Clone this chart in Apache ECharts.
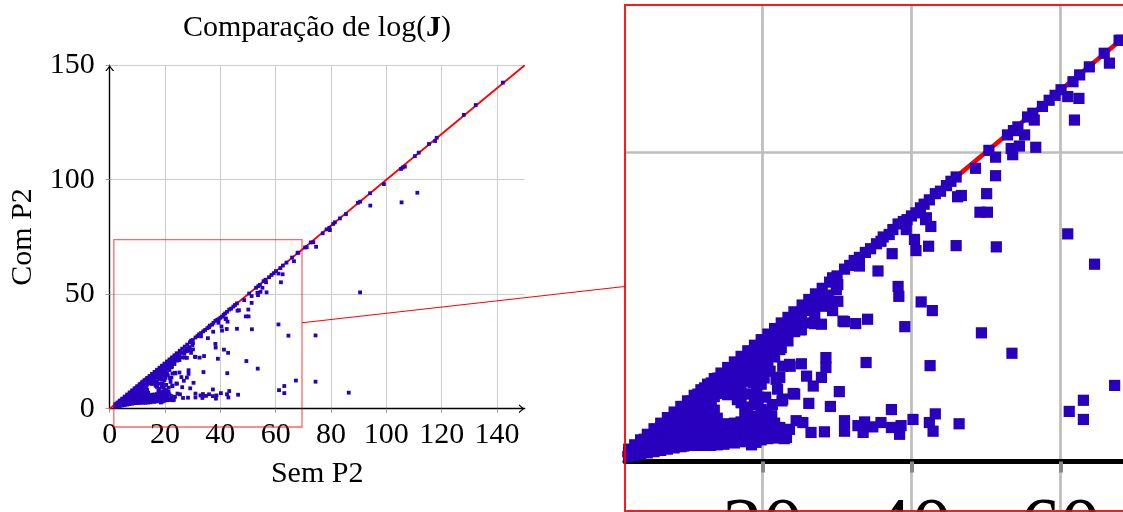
<!DOCTYPE html>
<html><head><meta charset="utf-8">
<script src="https://cdn.jsdelivr.net/npm/echarts@6/dist/echarts.min.js"></script>
<style>html,body{margin:0;padding:0;background:#fff}#c{width:1123px;height:512px}</style>
</head><body><div id="c"></div>
<script>
// ---- axis ticks / ranges ----
const xTicks = [0, 20, 40, 60, 80, 100, 120, 140];
const yTicks = [0, 50, 100, 150];
const zoomXTicks = [20, 40, 60];
const zoomYTicks = [50];
const axisRange = [0, 150];
const zoomX = [1.5, 69.5];
const zoomY = [-8, 73.8];
const identityLine = [[0, 0], [150, 150]];
const titleText = 'Comparação de log(';
const titleBold = 'J';
const xName = 'Sem P2';
const yName = 'Com P2';

// ---- data: [Sem P2, Com P2] ----
const nuvemDensa = [
[2,0.8],[2,1.5],[2,2],[2.8,1],[2.8,1.8],[2.8,2.7],[3.6,1.2],[3.6,2.2],[3.6,3],[3.6,3.5],
[4.5,1.4],[4.5,2.5],[4.5,3.4],[4.5,4.4],[5.4,1.6],[5.4,2.8],[5.4,3.9],[5.4,5.3],
[6.3,1.8],[6.3,3.1],[6.3,4.4],[6.3,5.5],[6.3,6.2],[7.2,2],[7.2,3.3],[7.2,4.7],[7.2,6],[7.2,7.1],
[8.1,2.2],[8.1,3.6],[8.1,5],[8.1,6.4],[8.1,8],[9,2.4],[9,3.8],[9,5.3],[9,6.8],[9,7.9],[9,8.9],
[9.9,2.6],[9.9,4],[9.9,5.6],[9.9,7.1],[9.9,8.5],[9.9,9.8],[10.8,2.7],[10.8,4.2],[10.8,5.8],[10.8,7.4],[10.8,8.9],[10.8,10.7],
[11.7,2.8],[11.7,4.3],[11.7,6],[11.7,7.7],[11.7,9.4],[11.7,10.5],[11.7,11.6],
[12.6,2.9],[12.6,4.4],[12.6,6.2],[12.6,8],[12.6,11.3],[12.6,12.5],
[13.5,3],[13.5,4.6],[13.5,6.4],[13.5,8.3],[13.5,10.5],[13.5,12],[13.5,13.4],
[14.4,2.9],[14.4,4.5],[14.4,5.9],[14.4,11],[14.4,12.6],[14.4,14.3],
[15.3,3.1],[15.3,4.6],[15.3,6.1],[15.3,10.8],[15.3,11.9],[15.3,13.4],[15.3,15.2],
[16.2,3],[16.2,4.8],[16.2,6.2],[16.2,11.4],[16.2,12.8],[16.2,14.5],[16.2,16.1],
[17.1,3.2],[17.1,4.9],[17.1,6.4],[17.1,9.5],[17.1,12],[17.1,13.6],[17.1,15.2],[17.1,17],
[18,3.3],[18,5],[18,6.8],[18,8.8],[18,10.9],[18,13],[18,14.6],[18,16.3],[18,17.9],
[18.9,3.3],[18.9,5.1],[18.9,7.3],[18.9,9.7],[18.9,14],[18.9,15.6],[18.9,17.3],[18.9,18.8],
[19.8,3.5],[19.8,5.3],[19.8,8.4],[19.8,12.5],[19.8,14.8],[19.8,16.6],[19.8,18.2],[19.8,19.7],
[20.7,3.7],[20.7,5.4],[20.7,15.5],[20.7,17.4],[20.7,19],[20.7,20.6],
[21.6,3.8],[21.6,6.2],[21.6,16.9],[21.6,18.4],[21.6,19.9],[21.6,21.5],
[22.5,4],[22.5,18.4],[22.5,20],[22.5,21.2],[22.5,22.4],
[23.4,19.5],[23.4,21],[23.4,22.3],[23.4,23.3],
[24.3,21],[24.3,22.5],[24.2,24.2],[25.2,21.3],[25.2,22.8],[25.2,24],[25.3,25.3],
[26.1,22.4],[26.1,24.4],[26.2,26.2],[27,22.3],[27,24],[27,25.5],[27.1,27.1],
[27.9,22.2],[27.9,25.1],[27.9,26.3],[28,28],[28.5,25.6],[28.8,26.9],[29,29],
[29.4,24.4],[29.9,27.8],[30,30],[30.1,28.6],[30.8,22.7],[31,31.1],[29.4,29.7]
];
const preenchimento = [
[10.3,6.5],[11.2,6.9],[12.2,7.1],[13,7.3],[13.9,7],[11.2,3.5],[12.1,3.6],[13,3.7],[14,3.8],[14.9,3.9],
[15.8,4],[16.7,4.1],[17.6,4.1],[18.5,4.2],[19.4,4.3],[14.9,5.3],[15.8,5.5],[16.7,5.6],[17.6,5.8],[18.5,6],
[19.4,6.5],[20.3,6.6],[13.1,9.4],[14,12],[14.9,12.3],[15.8,13.7],[16.7,14.3],[17.5,14.4],[18.4,15.3],
[19.3,16],[20.2,16.5],[21.1,17.8],[22,19.2],[22.9,19.8],[16.6,10],[19.2,11],[20.2,13.5],[21,14.6],
[20.4,10.4],[21.3,9.2],[19.6,7.3],[20.5,8],
[8.6,4.5],[9.5,4.8],[10.4,5],[11.3,5.2],[12.2,5.3],[13.1,5.5],[14,5.2],[7.7,4],[6.8,3.7],[5.9,3.4],
[5,3],[4.1,2.8],[3.2,2.4],[2.4,1.4],[9.5,6],[10.4,6.3],[8.6,5.9],[7.7,5.4],[6.8,5],[5.9,4.7],[5,4.1],[4.1,3.6],
[9.5,7.5],[10.4,8],[11.3,8.4],[12.2,10.5],[13.1,11.2],[14,13.5],[14.9,14],[15.8,15],[16.7,15.9],
[17.6,16.9],[18.5,17.8],[19.4,18.7],[20.3,19.6],[21.2,20.5],[22.1,21.4],[23,22.3],[23.9,23.1],
[8.6,7.3],[9.5,8.9],[10.4,9.8],[11.3,10.9],[12.2,11.9],[13.1,12.7],
[7.6,2.4],[8.5,2.5],[9.4,2.5],[10.3,2.6],[11.2,2.6],[12.1,2.6],[13,2.6],[13.9,2.7],[14.8,2.8],[18.5,2.7]
];
const diagonal = [
[31.7,31.7],[32.3,32.5],[33,33],[33.8,33.8],[34.5,34.4],[35.3,35.2],[35.9,35.6],[36.2,36.3],[37,36.7],[37.5,37.5],
[38.2,38.4],[38.9,38.8],[39.4,39.1],[40,39.7],[40.6,40.2],[41.2,41],[41.7,41.6],[42.4,42.3],[43.2,43.3],[43.9,43.7],
[44.7,44.6],[45.3,45.3],[46,46],[50.4,50.3],[52.9,52.8],[53.7,53.5],[54.3,54.1],[55.6,55.7],[56.3,56.3],[57.6,57.4],
[58.5,58.4],[59.3,59.2],[60.1,60.1],[61.7,61.4],[62.6,62.5],[63.9,63.8],[65.9,66],[67.9,68.1],[68.2,68.1],
[70.6,70.4],[71.2,70.5],[72.7,72.6],[73.6,72.7],[77,76.6],[78.4,78.3],[79.4,79],[79.6,78],[80.8,80.7],[81.4,81.4],
[83.2,83.1],[85.4,85],[89.7,89.9],[90.5,90.4],[94.1,94.1],[99.1,98.1],[105.3,104.7],[105.9,105.3],[106.7,105.7],
[110.3,110.3],[111.7,111.8],[115.4,115.6],[117.6,116.9],[118.2,118.3],[128,128.3],[132.3,132.6],[142.1,142.4]
];
const dispersos = [
[18.7,12.7],[16.9,10.9],[19.4,9.2],[17.6,7.9],[19.1,3.1],[21.2,7.1],[20.3,5.2],[21.2,4.4],[23.2,3.9],
[21.8,13.3],[22.7,15.4],[22,11.7],[22.7,10.1],[22.3,18.1],[23.6,15.7],[22.3,13.6],[24.1,11],
[25.2,15.8],[23.7,15.4],[24.3,10.9],[22.6,9.8],[26.2,9.4],[29.1,8.9],[30.3,11.3],[26.8,12.2],[27.9,13.6],
[25.9,13.8],[28.5,16.8],[28.5,15.2],[33.9,16],[25,21.3],
[32.5,22.3],[31,22.6],[34.1,23],[39.1,21.8],[38.2,28.3],[38.3,26.7],[41.3,25.8],[42.8,24.4],[29,25.9],[30.1,25.9],
[49.4,20.8],[53.5,17.5],[42.5,15.5],
[20,5.8],[20.9,4.4],[21.2,7.4],[22.3,5.5],[22.9,3.7],[23.6,5.2],[24.5,6.6],[25.4,6.3],[26.5,4.7],[28.3,4.8],
[31,6.6],[31,4.9],[32.8,5.8],[33.5,4.7],[33.7,6.4],[34.8,5.6],[35.9,6.3],[37.3,5.5],[38.4,4.4],[38.6,5.8],
[40.2,6.8],[42.4,6.3],[42.9,4.9],[43.2,7.7],[46.4,6.1],[37.3,8.4],[19.1,5.2],[17.8,4.7],[16,5.2],
[13.6,3.1],[10.9,3.3],[8.4,3.1],[5.3,2.3],[3,1.7],
[61.2,8.1],[63.1,9.9],[63.1,6.8],[67.3,12.3],
[33,31.6],[35.5,30.8],[37.4,33.6],[40.4,35.9],[40.6,34.1],[42.3,34.8],[46,34.9],[51.4,34.7],[61,36.8],[64.6,31.9],
[39.3,37.5],[42,39.4],[42.6,38],[41.9,39.1],[46.2,42.8],[46.7,43],[50.1,43.3],[49.2,40.3],[50.2,40.3],[51.3,46.2],
[48.6,47.4],[51.3,49.2],[53.6,49.6],[53.4,50.6],[54.5,51],[56.7,50.8],[55.2,52.8],[56.5,55.2],[61.9,55.2],
[61,59],[62.5,58.7],[66.6,64.4],
[74.6,70.7],[94.2,88.7],[105.5,90.1],[111.2,94.3],[90.5,50.8],[74.4,32],[74.4,11.8],[86.4,7]
];
const pontos = nuvemDensa.concat(preenchimento, diagonal, dispersos);

const FONT = 'Liberation Serif';
const MARK = '#2800bd';
const ARROW = 'path://M0,6 L5,0 L10,6 L8.4,6 L5,2 L1.6,6 Z';

const chart = echarts.init(document.getElementById('c'), null, {renderer: 'canvas'});
const option = {
  backgroundColor: '#fff',
  animation: false,
  grid: [
    {left: 109.7, top: 65.2, width: 415, height: 343.5, outerBoundsMode: 'none', containLabel: false},
    {left: 625, top: 5, width: 506, height: 506, outerBoundsMode: 'none', containLabel: false}
  ],
  xAxis: [
    {gridIndex: 0, type: 'value', min: axisRange[0], max: axisRange[1],
     name: xName, nameLocation: 'middle', nameGap: 50,
     nameTextStyle: {fontFamily: FONT, fontSize: 30, color: '#000'},
     axisLine: {lineStyle: {color: '#000', width: 1.4}, symbol: ['none', ARROW], symbolSize: [9, 6], symbolOffset: [0, -3]},
     axisTick: {show: true, length: 4, lineStyle: {color: '#999', width: 1}, customValues: xTicks},
     axisLabel: {customValues: xTicks, fontFamily: FONT, fontSize: 30, color: '#000', margin: 11},
     splitLine: {show: true, lineStyle: {color: '#cccccc', width: 1}}},
    {gridIndex: 1, type: 'value', min: zoomX[0], max: zoomX[1],
     axisLine: {onZero: true, lineStyle: {color: '#000', width: 5}},
     axisTick: {show: true, length: 11, lineStyle: {color: '#888', width: 4}, customValues: zoomXTicks},
     axisLabel: {customValues: zoomXTicks, fontFamily: FONT, fontSize: 81, color: '#000', margin: -20},
     splitLine: {show: true, lineStyle: {color: '#bdbdbd', width: 2.7}}}
  ],
  yAxis: [
    {gridIndex: 0, type: 'value', min: axisRange[0], max: axisRange[1], interval: 50,
     name: yName, nameLocation: 'middle', nameGap: 72,
     nameTextStyle: {fontFamily: FONT, fontSize: 30, color: '#000'},
     axisLine: {show: true, lineStyle: {color: '#000', width: 1.4}, symbol: ['none', ARROW], symbolSize: [9, 6], symbolOffset: [0, -3]},
     axisTick: {show: true, length: 4, lineStyle: {color: '#999', width: 1}, customValues: yTicks},
     axisLabel: {customValues: yTicks, fontFamily: FONT, fontSize: 30, color: '#000', margin: 15},
     splitLine: {show: true, lineStyle: {color: '#cccccc', width: 1}}},
    {gridIndex: 1, type: 'value', min: zoomY[0], max: zoomY[1],
     axisLine: {show: false}, axisLabel: {show: false},
     axisTick: {show: false, customValues: zoomYTicks},
     splitLine: {show: true, lineStyle: {color: '#bdbdbd', width: 2.7}}}
  ],
  series: [
    {type: 'line', xAxisIndex: 0, yAxisIndex: 0, data: identityLine, symbol: 'none',
     lineStyle: {color: '#ff0000', width: 1.8}, z: 2},
    {type: 'scatter', xAxisIndex: 0, yAxisIndex: 0, data: pontos, symbol: 'rect', symbolSize: 3.8,
     itemStyle: {color: MARK, opacity: 1}, z: 3},
    {type: 'line', xAxisIndex: 1, yAxisIndex: 1, data: identityLine, symbol: 'none',
     lineStyle: {color: '#ff0000', width: 4.8}, z: 2},
    {type: 'scatter', xAxisIndex: 1, yAxisIndex: 1, data: pontos, symbol: 'rect', symbolSize: 11.2,
     itemStyle: {color: MARK, opacity: 1}, z: 3}
  ]
};
chart.setOption(option);

// spy rectangle, magnified panel border and connecting line, placed through the scales
const a = chart.convertToPixel({gridIndex: 0}, [zoomX[0], zoomY[1]]);
const b = chart.convertToPixel({gridIndex: 0}, [zoomX[1], zoomY[0]]);
const c = chart.convertToPixel({gridIndex: 1}, [zoomX[0], zoomY[1]]);
const d = chart.convertToPixel({gridIndex: 1}, [zoomX[1], zoomY[0]]);
const c1 = [(a[0] + b[0]) / 2, (a[1] + b[1]) / 2], h1 = [(b[0] - a[0]) / 2, (b[1] - a[1]) / 2];
const c2 = [(c[0] + d[0]) / 2, (c[1] + d[1]) / 2], h2 = [(d[0] - c[0]) / 2, (d[1] - c[1]) / 2];
const dx = c2[0] - c1[0], dy = c2[1] - c1[1];
const t1 = Math.min(h1[0] / Math.abs(dx), h1[1] / Math.abs(dy));
const t2 = Math.min(h2[0] / Math.abs(dx), h2[1] / Math.abs(dy));

chart.setOption({
  graphic: [
    {type: 'text', x: 317, y: 28, z: 10,
     style: {text: '{r|' + titleText + '}{b|' + titleBold + '}{r|)}', align: 'center', verticalAlign: 'middle',
       rich: {r: {fontFamily: FONT, fontSize: 30, fill: '#000'}, b: {fontFamily: FONT, fontSize: 30, fontWeight: 'bold', fill: '#000'}}}},
    {type: 'rect', z: 10, shape: {x: a[0], y: a[1], width: b[0] - a[0], height: b[1] - a[1]},
     style: {fill: 'none', stroke: 'rgba(255,0,0,0.6)', lineWidth: 1.3}},
    {type: 'rect', z: 10, shape: {x: c[0], y: c[1], width: d[0] - c[0], height: d[1] - c[1]},
     style: {fill: 'none', stroke: 'rgba(255,0,0,0.9)', lineWidth: 2}},
    {type: 'line', z: 10, shape: {x1: c1[0] + dx * t1, y1: c1[1] + dy * t1, x2: c2[0] - dx * t2, y2: c2[1] - dy * t2},
     style: {stroke: '#ff0000', lineWidth: 1}}
  ]
});
</script></body></html>
